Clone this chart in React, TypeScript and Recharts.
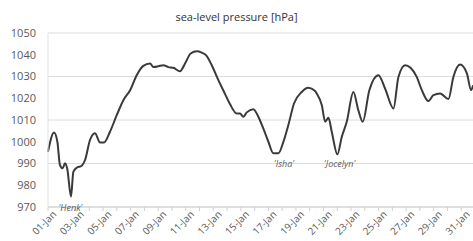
import { LineChart, Line, XAxis, YAxis, CartesianGrid, ReferenceDot } from 'recharts';

// days since 01-Jan 00:00
const dayOffsets = [
    0.0, 0.44, 0.68, 0.87, 1.07, 1.23, 1.4, 1.67, 1.84, 2.08, 2.45, 2.69, 3.05, 3.41, 3.78, 4.07,
    4.5, 4.99, 5.47, 5.96, 6.44, 6.92, 7.41, 7.65, 8.01, 8.37, 8.74, 9.1, 9.58, 9.95, 10.36, 10.8,
    11.16, 11.47, 11.89, 12.37, 12.85, 13.22, 13.7, 13.94, 14.18, 14.43, 14.91, 15.27, 15.63, 16.0,
    16.36, 16.73, 17.09, 17.45, 17.86, 18.42, 18.9, 19.39, 19.51, 19.88, 20.12, 20.36, 20.6, 21.01,
    21.33, 21.69, 22.17, 22.53, 22.85, 23.33, 23.99, 24.47, 25.08, 25.44, 25.93, 26.32, 26.77, 27.14,
    27.62, 27.98, 28.47, 29.07, 29.43, 29.92, 30.41, 30.72, 30.86,
];

const pressureHpa = [
    995.4, 1004.3, 1000.0, 989.3, 987.8, 990.1, 987.5, 974.8, 986.2, 988.0, 989.0, 991.6, 1000.8, 1003.9, 999.7, 999.7,
    1004.6, 1012.2, 1019.1, 1023.7, 1030.6, 1034.9, 1036.0, 1034.4, 1034.7, 1035.2, 1034.3, 1034.0, 1032.4, 1036.0, 1040.6, 1041.6,
    1041.0, 1039.8, 1035.2, 1028.3, 1022.0, 1017.2, 1013.0, 1013.0, 1011.5, 1013.5, 1015.0, 1011.5, 1006.1, 1000.0,
    994.7, 994.7, 1000.0, 1007.7, 1017.6, 1022.9, 1024.8, 1023.3, 1022.2, 1016.8, 1009.2, 1011.0, 1004.6, 994.2,
    1002.3, 1009.2, 1022.9, 1014.5, 1009.2, 1023.7, 1030.6, 1024.5, 1015.3, 1029.8, 1035.2, 1034.0, 1029.8, 1023.7,
    1018.7, 1021.4, 1022.2, 1019.6, 1029.8, 1035.5, 1031.4, 1023.7, 1026.0,
];

const dayTicks = [0, 1, 2, 3, 4, 5, 6, 7, 8, 9, 10, 11, 12, 13, 14, 15, 16, 17, 18, 19, 20, 21, 22, 23, 24, 25, 26, 27, 28, 29, 30];
const tickLabels = [
    '01-Jan', '03-Jan', '05-Jan', '07-Jan', '09-Jan', '11-Jan', '13-Jan', '15-Jan',
    '17-Jan', '19-Jan', '21-Jan', '23-Jan', '25-Jan', '27-Jan', '29-Jan', '31-Jan',
];
const pressureTicks = [970, 980, 990, 1000, 1010, 1020, 1030, 1040, 1050];

const stormNames = ["'Henk'", "'Isha'", "'Jocelyn'"];
const stormDays = [1.63, 17.14, 21.17];
const stormLabelHpa = [970, 989.8, 989.8];

const data = dayOffsets.map((d, i) => ({ day: d, hpa: pressureHpa[i] }));

const DayTick = (props: any) => {
    const { x, y, payload } = props;
    const idx = dayTicks.indexOf(payload.value);
    if (idx < 0 || idx % 2 !== 0) return null;
    const ax = x + 9;
    const ay = y + 4;
    return (
        <text x={ax} y={ay} textAnchor="end" fontSize={10} fill="#595959" transform={`rotate(-45, ${ax}, ${ay})`}>
            {tickLabels[idx / 2]}
        </text>
    );
};

const StormLabel = (name: string) => (props: any) => (
    <text x={props.cx} y={props.cy} textAnchor="middle" dominantBaseline="central" fontSize={9} fontStyle="italic" fill="#595959">
        {name}
    </text>
);

const App = () => {
    return (
        <div
            style={{
                position: 'absolute',
                left: 0,
                top: 0,
                width: 473,
                height: 241,
                overflow: 'hidden',
                background: '#fff',
                fontFamily: '"Open Sans", sans-serif',
            }}
        >
            <div
                style={{
                    position: 'absolute',
                    top: 10,
                    left: 0,
                    width: 473,
                    textAlign: 'center',
                    fontSize: 11,
                    lineHeight: '14px',
                    color: '#333',
                }}
            >
                sea-level pressure [hPa]
            </div>
            <LineChart width={480} height={241} data={data} margin={{ top: 33, right: 5, left: 0, bottom: 0 }}>
                <CartesianGrid vertical={false} stroke="#dcdcdc" />
                <XAxis
                    dataKey="day"
                    type="number"
                    domain={[0, 31]}
                    ticks={dayTicks}
                    interval={0}
                    height={34}
                    tickSize={4}
                    tickMargin={0}
                    tickLine={{ stroke: '#d0d0d0' }}
                    axisLine={{ stroke: '#d0d0d0' }}
                    tick={<DayTick />}
                />
                <YAxis
                    domain={[970, 1050]}
                    ticks={pressureTicks}
                    width={48}
                    tickLine={false}
                    tickSize={0}
                    tickMargin={12}
                    axisLine={{ stroke: '#e2e2e2' }}
                    tick={{ fill: '#595959', fontSize: 11 }}
                />
                <Line
                    type="monotone"
                    dataKey="hpa"
                    stroke="#3a3a3a"
                    strokeWidth={2}
                    dot={false}
                    isAnimationActive={false}
                />
                {stormNames.map((n, i) => (
                    <ReferenceDot
                        key={n}
                        x={stormDays[i]}
                        y={stormLabelHpa[i]}
                        r={1}
                        ifOverflow="visible"
                        shape={StormLabel(n)}
                    />
                ))}
            </LineChart>
        </div>
    );
};

export default App;
